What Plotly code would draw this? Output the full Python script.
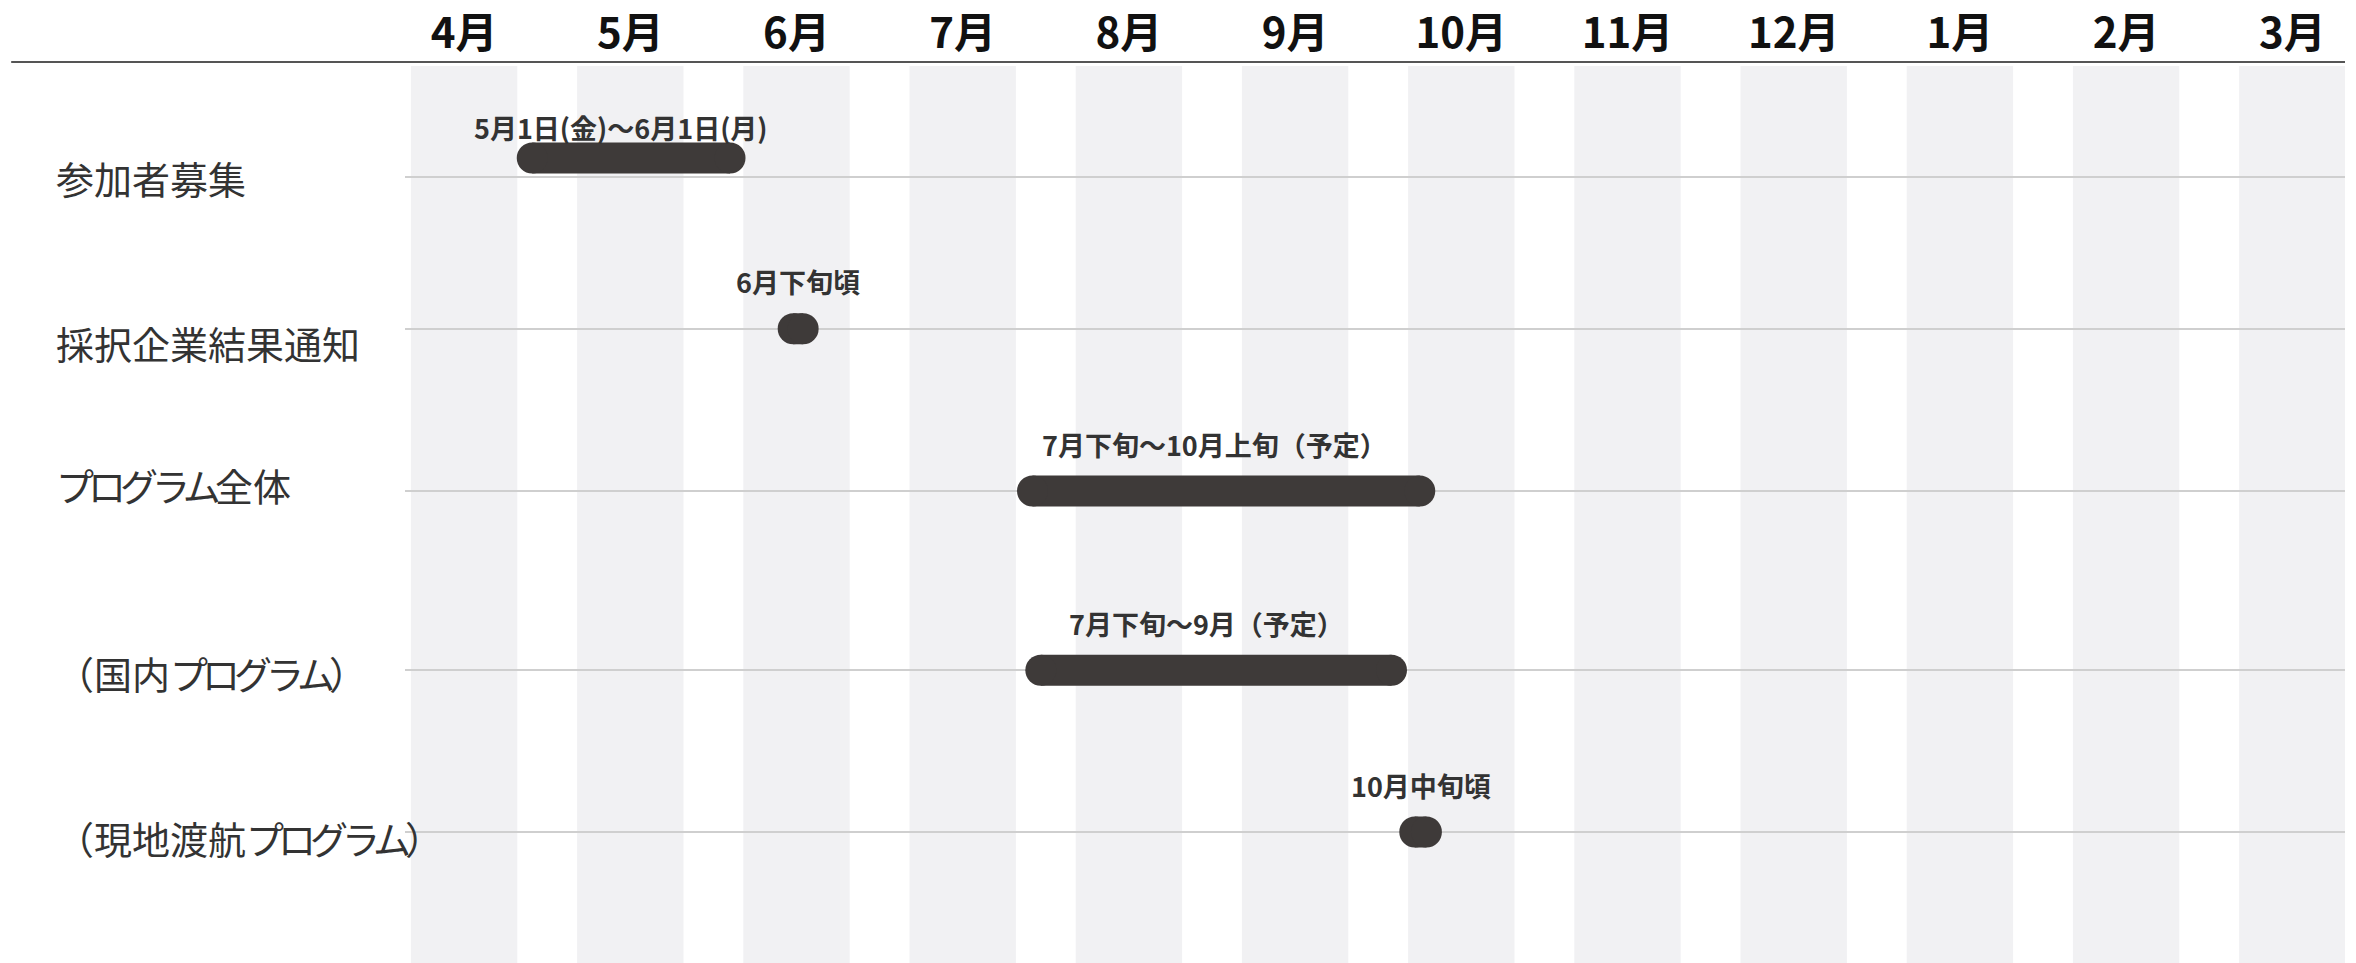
import re
import plotly.graph_objects as go

# ---- data ----
months = ["4月", "5月", "6月", "7月", "8月", "9月", "10月", "11月", "12月", "1月", "2月", "3月"]
tasks = ["参加者募集", "採択企業結果通知", "プログラム全体", "（国内プログラム）", "（現地渡航プログラム）"]
# start / end in month units (0 = start of April)
task_start = [0.91, 2.48, 3.92, 3.97, 6.22]
task_end = [2.10, 2.54, 6.25, 6.08, 6.29]
task_notes = ["5月1日(金)～6月1日(月)", "6月下旬頃", "7月下旬～10月上旬（予定）", "7月下旬～9月（予定）", "10月中旬頃"]

# ---- styles ----
FONT = "Noto Sans CJK JP"
BAR_COLOR = "#3e3a39"
STRIPE_COLOR = "#f1f1f3"
GRID_COLOR = "#cfcfcf"
BAR_THICK = 31
row_dy = [0, 12, 13.5, -2, 0]       # px lift of each row from even spacing
label_dy = [0, 14, -7, 2, 5]        # px drop of the row labels below their line
note_dx = [-10, 0, -12, -10, 0]     # px nudges of the note labels
note_dy = [50, 47, 47, 47, 47]      # px lift of the note labels above the row line
bar_dy = [19, 0, 0, 0, 0]           # px nudges (up) of the bars
Y_RANGE = [4.8, -0.678]
PLOT_H = 963 - 66
units_per_px = (Y_RANGE[0] - Y_RANGE[1]) / PLOT_H
row_y = [i - row_dy[i] * units_per_px for i in range(len(tasks))]


def kana_tight(s):
    # emulate proportional kana spacing of the original typeface
    return re.sub(r"([\u30A0-\u30FF]+)", r'<span style="letter-spacing:-6px">\1</span>', s)


fig = go.Figure()

for i, (s, e) in enumerate(zip(task_start, task_end)):
    yy = row_y[i] - bar_dy[i] * units_per_px
    fig.add_trace(go.Scatter(
        x=[s, e], y=[yy, yy], mode="lines+markers",
        line=dict(color=BAR_COLOR, width=BAR_THICK),
        marker=dict(color=BAR_COLOR, size=BAR_THICK, line=dict(width=0)),
        hoverinfo="skip", showlegend=False,
    ))

shapes = []
for i in range(len(months)):
    shapes.append(dict(type="rect", xref="x", yref="paper", x0=i + 0.18, x1=i + 0.82,
                       y0=0, y1=1, fillcolor=STRIPE_COLOR, line=dict(width=0), layer="below"))
shapes.append(dict(type="line", xref="paper", yref="paper", x0=-0.203, x1=1,
                   y0=1 + 4 / PLOT_H, y1=1 + 4 / PLOT_H, line=dict(color="#555555", width=2)))

annotations = []
for i, name in enumerate(tasks):
    annotations.append(dict(x=-0.181, xref="paper", y=row_y[i], yref="y", text=kana_tight(name),
                            xanchor="left", yanchor="middle", showarrow=False, yshift=-label_dy[i],
                            font=dict(family=FONT, size=38, color="#333333")))
for i, (s, e, note) in enumerate(zip(task_start, task_end, task_notes)):
    annotations.append(dict(x=(s + e) / 2, y=row_y[i], xref="x", yref="y", text=note,
                            xanchor="center", yanchor="middle", yshift=note_dy[i], xshift=note_dx[i],
                            showarrow=False,
                            font=dict(family=FONT, size=27, color="#333333", weight="bold")))

fig.update_layout(
    width=2356, height=963,
    margin=dict(l=405, r=11, t=66, b=0, pad=0),
    paper_bgcolor="white", plot_bgcolor="white",
    shapes=shapes, annotations=annotations,
    xaxis=dict(range=[0.1444, 11.817], side="top", automargin=False,
               tickvals=[i + 0.5 for i in range(len(months))], ticktext=months,
               tickfont=dict(family=FONT, size=42, color="#111111", weight="bold"),
               showgrid=False, zeroline=False, showline=False, ticks="",
               ticklabelstandoff=9, fixedrange=True),
    yaxis=dict(range=Y_RANGE, autorange=False, automargin=False,
               tickmode="array", tickvals=row_y,
               showticklabels=False, showgrid=True, gridcolor=GRID_COLOR, gridwidth=2,
               zeroline=False, showline=False, ticks="", fixedrange=True),
)

fig.write_html("out.html", config={"displayModeBar": False},
               post_script="document.body.style.margin='0';document.body.style.overflow='hidden';")
